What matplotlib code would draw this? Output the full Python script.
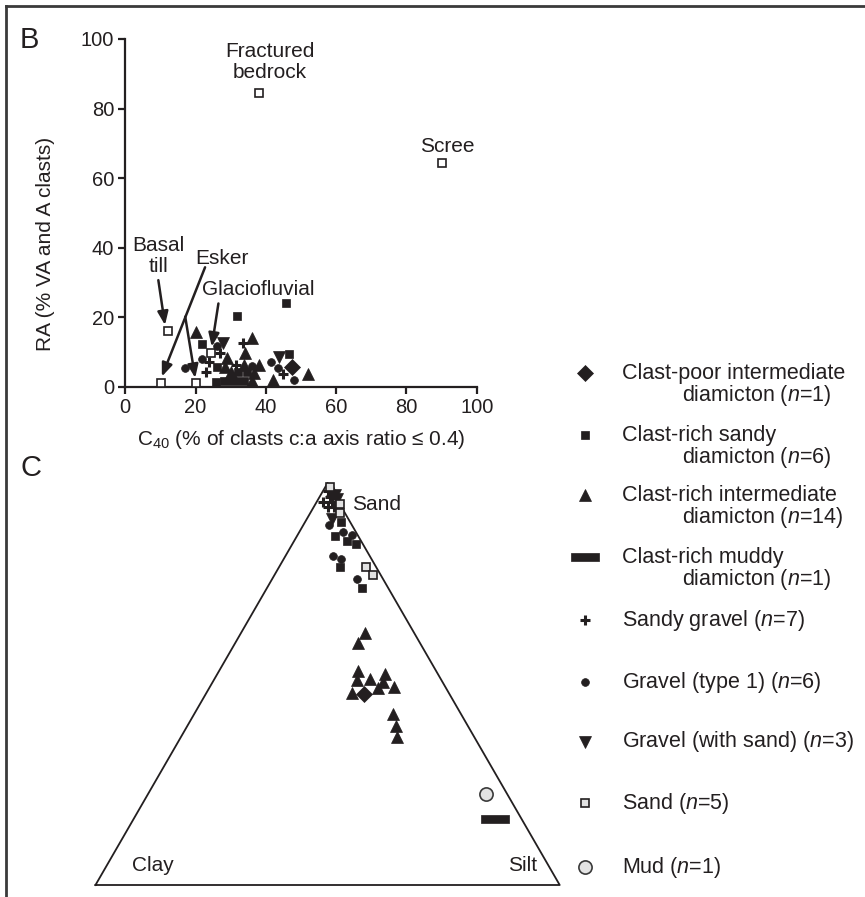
import numpy as np
import matplotlib
matplotlib.use("Agg")
import matplotlib.pyplot as plt
from matplotlib.lines import Line2D
from matplotlib.path import Path

plt.rcParams['font.family'] = ['Liberation Sans', 'DejaVu Sans']
plt.rcParams['mathtext.fontset'] = 'custom'
plt.rcParams['mathtext.rm'] = 'Liberation Sans'
plt.rcParams['mathtext.it'] = 'Liberation Sans:italic'

INK = '#231f20'

# ---------------- Panel B: C40 vs RA ----------------
cpi_c40 = [47.4]
cpi_ra = [5.8]
crs_c40 = [45.7, 31.9, 21.9, 26.0, 32.2, 34.5, 25.7, 46.7]
crs_ra = [24.2, 20.4, 12.4, 5.7, 4.4, 4.4, 1.5, 9.5]
cri_c40 = [20.2, 36.1, 34.2, 28.9, 33.8, 38.1, 28.5, 30.1, 36.7, 36.0, 42.1, 52.1]
cri_ra = [15.9, 14.0, 9.9, 8.2, 6.3, 6.3, 5.8, 4.4, 3.9, 1.8, 2.0, 3.7]
crm_c40 = [30.8]
crm_ra = [1.6]
sg_c40 = [27.0, 33.4, 23.9, 31.4, 22.9, 45.0]
sg_ra = [9.7, 12.6, 7.3, 6.3, 4.4, 3.7]
g1_c40 = [26.0, 21.7, 36.0, 17.0, 41.4, 43.5, 48.0]
g1_ra = [11.8, 8.0, 6.0, 5.4, 7.3, 5.4, 2.0]
gs_c40 = [27.8, 43.8]
gs_ra = [12.6, 8.5]
ref_c40 = [10.2, 20.2, 12.1, 24.4, 38.0, 90.0]
ref_ra = [1.1, 1.1, 16.1, 9.9, 84.6, 64.5]

# ---------------- Panel C: sand / silt / clay (%) ----------------
tern_sand_sand = [99.0, 94.8, 92.6, 79.1, 77.0]
tern_sand_silt = [1.0, 5.2, 6.4, 18.8, 21.2]
tern_sand_clay = [0.0, 0.0, 1.0, 2.1, 1.8]

cri_sand = [98.2, 62.6, 60.1, 53.3, 51.0, 51.2, 52.5, 50.6, 47.7, 48.9, 49.2, 42.5, 39.6, 36.8]
cri_silt = [1.8, 26.8, 26.4, 30.0, 30.9, 33.5, 36.2, 36.7, 31.4, 36.3, 39.8, 42.8, 45.0, 46.6]
cri_clay = [0.0, 10.6, 13.5, 16.7, 18.1, 15.3, 11.3, 12.7, 20.9, 14.8, 11.0, 14.7, 15.4, 16.6]

gs_sand = [97.0, 96.0, 91.0]
gs_silt = [3.0, 4.0, 5.5]
gs_clay = [0.0, 0.0, 3.5]

sg_sand = [98.0, 97.0, 96.5, 95.3, 95.3, 94.1, 94.0]
sg_silt = [1.0, 2.5, 2.3, 1.4, 3.2, 3.1, 4.3]
sg_clay = [1.0, 0.5, 1.2, 3.3, 1.5, 2.8, 1.7]

g1_sand = [89.6, 87.8, 87.1, 81.8, 81.0, 76.2]
g1_silt = [5.4, 9.4, 11.8, 10.2, 12.3, 18.3]
g1_clay = [5.0, 2.8, 1.1, 8.0, 6.7, 5.5]

crs_sand = [90.3, 86.8, 85.6, 84.8, 79.2, 74.0]
crs_silt = [7.8, 8.2, 11.3, 13.8, 13.1, 20.5]
crs_clay = [1.9, 5.0, 3.1, 1.4, 7.7, 5.5]

cpi_sand, cpi_silt, cpi_clay = [47.4], [34.2], [18.4]
crm_sand, crm_silt, crm_clay = [16.5], [77.9], [5.6]
mud_sand, mud_silt, mud_clay = [22.6], [72.9], [4.5]

# ---------------- Legend ----------------
legend_names = ['Clast-poor intermediate', 'Clast-rich sandy', 'Clast-rich intermediate',
                'Clast-rich muddy', 'Sandy gravel', 'Gravel (type 1)',
                'Gravel (with sand)', 'Sand', 'Mud']
legend_n = [1, 6, 14, 1, 7, 6, 3, 5, 1]
legend_keys = ['cpi', 'crs', 'cri', 'crm', 'sg', 'g1', 'gs', 'sand', 'mud']

BAR = Path([(-1, -0.27), (1, -0.27), (1, 0.27), (-1, 0.27), (-1, -0.27)],
           [Path.MOVETO, Path.LINETO, Path.LINETO, Path.LINETO, Path.CLOSEPOLY])

STY = {
    'cpi': dict(marker='D', ms=8.5, mfc=INK, mec=INK, mew=0.5),
    'crs': dict(marker='s', ms=5.8, mfc=INK, mec=INK, mew=0.5),
    'cri': dict(marker='^', ms=8.0, mfc=INK, mec=INK, mew=0.5),
    'crm': dict(marker=BAR, ms=19.5, mfc=INK, mec=INK, mew=0.5),
    'sg': dict(marker='+', ms=7.5, mfc=INK, mec=INK, mew=2.2),
    'g1': dict(marker='o', ms=5.6, mfc=INK, mec=INK, mew=0.5),
    'gs': dict(marker='v', ms=8.0, mfc=INK, mec=INK, mew=0.5),
    'sand': dict(marker='s', ms=5.2, mfc='white', mec=INK, mew=1.2),
    'mud': dict(marker='o', ms=9.5, mfc='#e4e4e4', mec='#3a3a3a', mew=1.2),
}
TERN_SAND = dict(STY['sand'], mfc='#e2e2e2', ms=5.8)

W, H = 865, 897
fig = plt.figure(figsize=(W / 100, H / 100), dpi=100)


def fx(px):
    return px / W


def fy(py):
    return 1 - py / H


FS = 15

# ---- Panel B axes ----
ax = fig.add_axes([fx(125.3), fy(387), (476.7 - 125.3) / W, (387 - 39) / H])
ax.set_xlim(0, 100)
ax.set_ylim(0, 100)
for s in ['top', 'right']:
    ax.spines[s].set_visible(False)
for s in ['left', 'bottom']:
    ax.spines[s].set_linewidth(1.6)
    ax.spines[s].set_color(INK)
ax.set_xticks(range(0, 101, 20))
ax.set_yticks(range(0, 101, 20))
ax.tick_params(direction='out', length=5, width=1.6, colors=INK,
               labelsize=14.5, pad=3)
ax.set_xlabel(r'C$_{40}$ (% of clasts c:a axis ratio ≤ 0.4)', fontsize=FS,
              color=INK, labelpad=8)
ax.set_ylabel('RA (% VA and A clasts)', fontsize=FS, color=INK)
ax.yaxis.set_label_coords(-0.2, 0.41)

ax.plot(ref_c40, ref_ra, ls='none', clip_on=False, zorder=3, **STY['sand'])
ax.plot(cri_c40, cri_ra, ls='none', clip_on=False, zorder=3, **STY['cri'])
ax.plot(crs_c40, crs_ra, ls='none', clip_on=False, zorder=3, **STY['crs'])
ax.plot(g1_c40, g1_ra, ls='none', clip_on=False, zorder=3, **STY['g1'])
ax.plot(gs_c40, gs_ra, ls='none', clip_on=False, zorder=3, **STY['gs'])
ax.plot(sg_c40, sg_ra, ls='none', clip_on=False, zorder=3, **STY['sg'])
ax.plot(crm_c40, crm_ra, ls='none', clip_on=False, zorder=3, **STY['crm'])
ax.plot(cpi_c40, cpi_ra, ls='none', clip_on=False, zorder=4, **STY['cpi'])

arrow = dict(arrowstyle='-|>,head_length=0.8,head_width=0.32', lw=1.8,
             color=INK, shrinkA=0, shrinkB=0, mutation_scale=10)
ax.annotate('', xy=(11.3, 17.8), xytext=(9.4, 30.7), arrowprops=arrow)
ax.annotate('', xy=(10.4, 3.0), xytext=(22.7, 34.4), arrowprops=arrow)
ax.annotate('', xy=(19.9, 2.6), xytext=(17.05, 20.2), arrowprops=arrow)
ax.annotate('', xy=(24.6, 11.6), xytext=(26.5, 24.0), arrowprops=arrow)

ax.text(9.4, 37.6, 'Basal\ntill', ha='center', va='center', fontsize=FS,
        color=INK, linespacing=1.1)
ax.text(27.4, 37.0, 'Esker', ha='center', va='center', fontsize=FS, color=INK)
ax.text(37.9, 27.9, 'Glaciofluvial', ha='center', va='center', fontsize=FS,
        color=INK)
ax.text(41.2, 93.4, 'Fractured\nbedrock', ha='center', va='center',
        fontsize=FS, color=INK, linespacing=1.1)
ax.text(91.5, 69.0, 'Scree', ha='center', va='center', fontsize=FS, color=INK)

# ---- Panel C ternary ----
SIDE = 464.2
tax = fig.add_axes([fx(95.5 - 0.1 * SIDE), fy(885 + 0.05 * SIDE),
                    1.2 * SIDE / W, 1.0 * SIDE / H])
tax.set_xlim(-0.1, 1.1)
tax.set_ylim(-0.05, 0.95)
tax.axis('off')

R3 = np.sqrt(3) / 2


def tern(sand, silt, clay):
    sand = np.asarray(sand, float)
    silt = np.asarray(silt, float)
    clay = np.asarray(clay, float)
    tot = sand + silt + clay
    s, t = sand / tot, silt / tot
    return t + s / 2, s * R3


tax.plot([0, 1, 0.5, 0], [0, 0, R3, 0], color=INK, lw=1.3)


def tplot(sand, silt, clay, sty, z=3):
    x, y = tern(sand, silt, clay)
    tax.plot(x, y, ls='none', clip_on=False, zorder=z, **sty)


tplot(cri_sand, cri_silt, cri_clay, STY['cri'])
tplot(crs_sand, crs_silt, crs_clay, STY['crs'])
tplot(g1_sand, g1_silt, g1_clay, STY['g1'])
tplot(gs_sand, gs_silt, gs_clay, STY['gs'])
tplot(sg_sand, sg_silt, sg_clay, STY['sg'])
tplot(tern_sand_sand, tern_sand_silt, tern_sand_clay, TERN_SAND, z=4)
tplot(cpi_sand, cpi_silt, cpi_clay, STY['cpi'], z=5)
tplot(crm_sand, crm_silt, crm_clay, STY['crm'])
tplot(mud_sand, mud_silt, mud_clay, STY['mud'])

tax.text(0.079, 0.041, 'Clay', ha='left', va='center', fontsize=FS, color=INK)
tax.text(0.951, 0.041, 'Silt', ha='right', va='center', fontsize=FS, color=INK)
tax.text(0.553, 0.819, 'Sand', ha='left', va='center', fontsize=FS, color=INK)

# ---- Panel letters and frame ----
fig.text(fx(29), fy(40), 'B', ha='center', va='center', fontsize=21, color=INK)
fig.text(fx(31), fy(468), 'C', ha='center', va='center', fontsize=21, color=INK)
fig.add_artist(Line2D([fx(6), 1], [fy(6), fy(6)], transform=fig.transFigure,
                      color='#3a3a3a', lw=2))
fig.add_artist(Line2D([fx(6), fx(6)], [fy(6), 0], transform=fig.transFigure,
                      color='#3a3a3a', lw=2))

# ---- Legend ----
row_y = [373, 435, 495, 557, 620, 682, 742, 803, 867]
mark_x, text_x, indent_x = 585, 621.7, 681.7
for key, name, n, py in zip(legend_keys, legend_names, legend_n, row_y):
    sty = dict(STY[key])
    if key == 'sand':
        sty = dict(TERN_SAND)
    fig.add_artist(Line2D([fx(mark_x)], [fy(py)], transform=fig.transFigure,
                          ls='none', **sty))
    nstr = r'($\mathit{n}$=%d)' % n
    if name.startswith('Clast'):
        fig.text(fx(text_x), fy(py), name, ha='left', va='center',
                 fontsize=15.5, color=INK)
        fig.text(fx(indent_x), fy(py + 22), 'diamicton ' + nstr, ha='left',
                 va='center', fontsize=15.5, color=INK)
    else:
        fig.text(fx(text_x), fy(py), name + ' ' + nstr, ha='left',
                 va='center', fontsize=15.5, color=INK)

fig.savefig('out.png', dpi=100, facecolor='white')
